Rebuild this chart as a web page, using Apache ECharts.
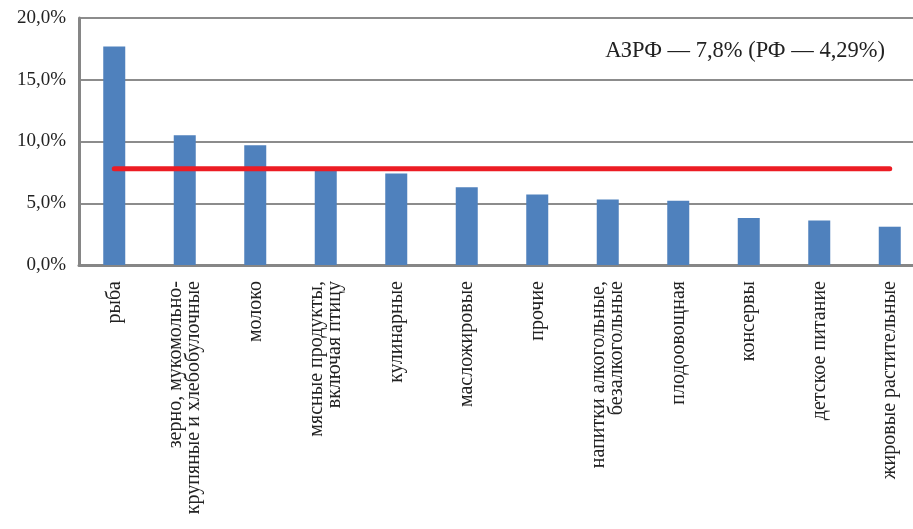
<!DOCTYPE html>
<html>
<head>
<meta charset="utf-8">
<script src="https://cdn.jsdelivr.net/npm/echarts@6/dist/echarts.min.js"></script>
<style>
  html, body { margin: 0; padding: 0; background: #fff; }
  #chart { width: 913px; height: 529px; }
</style>
</head>
<body>
<div id="chart"></div>
<script>
// Product groups (axis categories)
const categories = [
  'рыба',
  'зерно, мукомольно-\nкрупяные и хлебобулочные',
  'молоко',
  'мясные продукты,\nвключая птицу',
  'кулинарные',
  'масложировые',
  'прочие',
  'напитки алкогольные,\nбезалкогольные',
  'плодоовощная',
  'консервы',
  'детское питание',
  'жировые растительные'
];

// Share by group, %
const shares = [17.7, 10.5, 9.7, 7.7, 7.4, 6.3, 5.7, 5.3, 5.2, 3.8, 3.6, 3.1];

// Average level for the zone, %
const azrfLevel = 7.8;
const azrfLine = categories.map(() => azrfLevel);

// Value axis ticks
const yTicks = { min: 0, max: 20, interval: 5 };

const annotationText = 'АЗРФ — 7,8% (РФ — 4,29%)';

const serif = '"Liberation Serif", "DejaVu Serif", serif';

const chart = echarts.init(document.getElementById('chart'), null, { renderer: 'canvas' });

chart.setOption({
  animation: false,
  backgroundColor: '#ffffff',
  // plot area runs a little past the right edge of the page
  grid: {
    left: 79, top: 18, height: 247, width: 846,
    containLabel: false,
    outerBoundsMode: 'none'
  },
  xAxis: {
    type: 'category',
    data: categories,
    axisLine: { show: true, lineStyle: { color: '#868686', width: 3 } },
    axisTick: { show: false },
    axisLabel: {
      interval: 0,
      rotate: 90,
      margin: 16,
      fontFamily: serif,
      fontSize: 20,
      lineHeight: 18,
      color: '#222'
    }
  },
  yAxis: {
    type: 'value',
    min: yTicks.min,
    max: yTicks.max,
    interval: yTicks.interval,
    axisLine: { show: true, lineStyle: { color: '#868686', width: 3 } },
    axisTick: { show: false },
    splitLine: { show: true, lineStyle: { color: '#8c8c8c', width: 2 } },
    axisLabel: {
      margin: 13,
      fontFamily: serif,
      fontSize: 19,
      color: '#222',
      formatter: v => v.toFixed(1).replace('.', ',') + '%'
    }
  },
  series: [
    {
      type: 'bar',
      data: shares,
      barWidth: 22,
      itemStyle: { color: '#4F81BD' },
      z: 2
    },
    {
      type: 'line',
      data: azrfLine,
      symbol: 'none',
      lineStyle: { color: '#EC1C24', width: 5, cap: 'round' },
      z: 5
    }
  ],
  graphic: [
    {
      type: 'text',
      x: 885,
      y: 51,
      style: {
        text: annotationText,
        fontFamily: serif,
        fontSize: 22.5,
        fill: '#222',
        textAlign: 'right',
        textVerticalAlign: 'middle'
      },
      z: 10
    }
  ]
});
</script>
</body>
</html>
